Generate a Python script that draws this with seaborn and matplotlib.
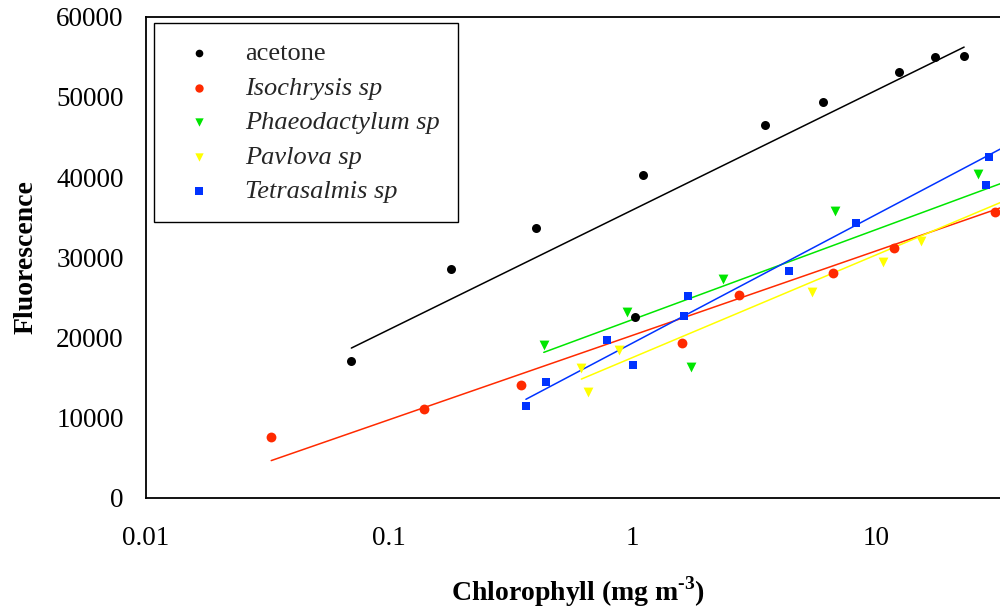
import numpy as np
import pandas as pd
import matplotlib
matplotlib.use("Agg")
import matplotlib.pyplot as plt
import seaborn as sns

# Fluorescence vs chlorophyll concentration for acetone extracts and four algal cultures
series = ["acetone", "Isochrysis sp", "Phaeodactylum sp", "Pavlova sp", "Tetrasalmis sp"]

acetone_x = [0.0698, 0.179, 0.399, 1.02, 1.10, 3.49, 6.04, 12.4, 17.5, 23.0]
acetone_y = [17000, 28550, 33590, 22550, 40200, 46550, 49420, 53050, 54960, 55050]

isochrysis_x = [0.0327, 0.139, 0.348, 1.60, 2.73, 6.67, 11.9, 30.8]
isochrysis_y = [7590, 11090, 14050, 19250, 25340, 28000, 31210, 35590]

phaeodactylum_x = [0.431, 0.947, 1.74, 2.35, 6.78, 26.2]
phaeodactylum_y = [19050, 23170, 16250, 27340, 35710, 40420]

pavlova_x = [0.615, 0.657, 0.879, 5.44, 10.7, 15.3]
pavlova_y = [16210, 13170, 18370, 25630, 29380, 32050]

tetrasalmis_x = [0.364, 0.441, 0.784, 1.003, 1.62, 1.68, 4.37, 8.27, 28.4, 29.0]
tetrasalmis_y = [11460, 14420, 19670, 16500, 22710, 25130, 28340, 34250, 38960, 42460]

# Regression lines: y = intercept + slope * log10(x)
fit_intercept = [35905, 20263, 22229, 17498, 19306]
fit_slope = [14909, 10522, 11214, 12788, 16013]
fit_x_end = [23.0, 100, 100, 100, 100]

xs = [acetone_x, isochrysis_x, phaeodactylum_x, pavlova_x, tetrasalmis_x]
ys = [acetone_y, isochrysis_y, phaeodactylum_y, pavlova_y, tetrasalmis_y]

x_ticks = [0.01, 0.1, 1, 10]
x_tick_labels = ["0.01", "0.1", "1", "10"]
y_ticks = [0, 10000, 20000, 30000, 40000, 50000, 60000]

colors = ["#000000", "#ff2a00", "#00e600", "#ffff00", "#0033ff"]
markers = ["o", "o", "v", "v", "s"]
sizes = [42, 50, 50, 50, 36]

df = pd.DataFrame({
    "chl": np.concatenate(xs),
    "fluor": np.concatenate(ys),
    "sample": np.repeat(series, [len(v) for v in xs]),
})

sns.set_theme(style="white")
plt.rcParams["font.family"] = ["Liberation Serif", "DejaVu Serif"]
plt.rcParams["mathtext.fontset"] = "custom"
plt.rcParams["mathtext.rm"] = "Liberation Serif:bold"
plt.rcParams["mathtext.bf"] = "Liberation Serif:bold"

fig = plt.figure(figsize=(10, 6.09), dpi=100)
ax = fig.add_axes([0.146, 0.1827, 0.854, 0.7899])
ax.set_xscale("log")

for name, a, b, xe, c in zip(series, fit_intercept, fit_slope, fit_x_end, colors):
    xmin = df.loc[df["sample"] == name, "chl"].min()
    lx = np.array([xmin, xe])
    ax.plot(lx, a + b * np.log10(lx), color=c, lw=1.1, zorder=1, label="_nolegend_")

for name, c, m, s in zip(series, colors, markers, sizes):
    sub = df[df["sample"] == name]
    sns.scatterplot(data=sub, x="chl", y="fluor", ax=ax, color=c, marker=m, s=s,
                    linewidth=0, label=name, zorder=3)

ax.set_xlim(0.01, 32.3)
ax.set_ylim(0, 60000)
ax.set_xticks(x_ticks)
ax.set_xticklabels(x_tick_labels)
ax.xaxis.set_minor_locator(matplotlib.ticker.NullLocator())
ax.set_yticks(y_ticks)
ax.set_yticklabels([str(v) for v in y_ticks])

ax.tick_params(axis="both", which="major", direction="out", length=6, width=1.0,
               color="black", labelsize=19.5, labelcolor="black")
ax.tick_params(axis="x", pad=14)
ax.tick_params(axis="y", pad=10)

for side in ["left", "bottom", "top"]:
    ax.spines[side].set_visible(True)
    ax.spines[side].set_color("black")
    ax.spines[side].set_linewidth(1.3)
ax.spines["right"].set_visible(False)

ax.set_xlabel(r"Chlorophyll (mg m$^{\text{-3}}$)", fontsize=20, fontweight="bold", color="black")
ax.set_ylabel("Fluorescence", fontsize=20, fontweight="bold", color="black")
ax.xaxis.set_label_coords(0.506, -0.196)
ax.xaxis.label.set_verticalalignment("center")
ax.yaxis.set_label_coords(-0.140, 0.5)
ax.yaxis.label.set_verticalalignment("center")

leg = ax.legend(loc="upper left", bbox_to_anchor=(0.154, 1 - 23 / 609),
                bbox_transform=fig.transFigure, borderaxespad=0,
                fontsize=19, frameon=True, fancybox=False, shadow=False,
                edgecolor="black", framealpha=1, markerscale=0.85,
                borderpad=0.7, handlelength=2.0, handletextpad=0.75, labelspacing=0.42)
leg.get_frame().set_linewidth(1.0)
for t in leg.get_texts()[1:]:
    t.set_fontstyle("italic")

fig.savefig("out.png", dpi=100)
